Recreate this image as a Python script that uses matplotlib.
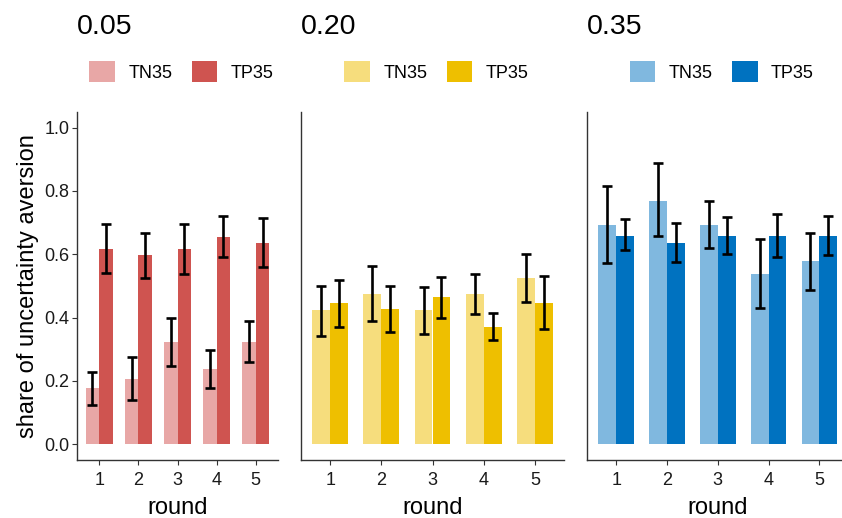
import matplotlib
matplotlib.use("Agg")
import matplotlib.pyplot as plt
from matplotlib.patches import Patch
import numpy as np

plt.rcParams['font.family'] = ['Liberation Sans', 'DejaVu Sans']

rounds = [1, 2, 3, 4, 5]
panel_titles = ["0.05", "0.20", "0.35"]
series_names = ["TN35", "TP35"]

# panel 0.05
tn_005 = [0.177, 0.206, 0.324, 0.237, 0.324]
tn_005_lo = [0.124, 0.138, 0.248, 0.177, 0.259]
tn_005_hi = [0.229, 0.276, 0.398, 0.296, 0.390]
tp_005 = [0.617, 0.598, 0.617, 0.655, 0.636]
tp_005_lo = [0.541, 0.525, 0.537, 0.592, 0.560]
tp_005_hi = [0.694, 0.667, 0.694, 0.720, 0.714]

# panel 0.20
tn_020 = [0.423, 0.473, 0.423, 0.473, 0.525]
tn_020_lo = [0.343, 0.389, 0.347, 0.412, 0.450]
tn_020_hi = [0.501, 0.562, 0.497, 0.536, 0.602]
tp_020 = [0.446, 0.427, 0.464, 0.369, 0.446]
tp_020_lo = [0.369, 0.355, 0.400, 0.328, 0.363]
tp_020_hi = [0.519, 0.500, 0.527, 0.414, 0.532]

# panel 0.35
tn_035 = [0.693, 0.769, 0.693, 0.538, 0.579]
tn_035_lo = [0.572, 0.656, 0.621, 0.430, 0.487]
tn_035_hi = [0.816, 0.889, 0.768, 0.649, 0.667]
tp_035 = [0.659, 0.636, 0.659, 0.659, 0.659]
tp_035_lo = [0.614, 0.575, 0.602, 0.592, 0.599]
tp_035_hi = [0.711, 0.698, 0.717, 0.728, 0.720]

yticks = [0.0, 0.2, 0.4, 0.6, 0.8, 1.0]
ytick_labels = ["0.0", "0.2", "0.4", "0.6", "0.8", "1.0"]

panels = [
    (tn_005, tn_005_lo, tn_005_hi, tp_005, tp_005_lo, tp_005_hi, "#E8A7A6", "#CF5450"),
    (tn_020, tn_020_lo, tn_020_hi, tp_020, tp_020_lo, tp_020_hi, "#F6DD7D", "#EEBF00"),
    (tn_035, tn_035_lo, tn_035_hi, tp_035, tp_035_lo, tp_035_hi, "#80B8DF", "#0072C0"),
]

W, H = 842, 518
fig = plt.figure(figsize=(W / 100, H / 100), dpi=100)

ax_left_px = [77, 301, 587.3]
ax_width_px = [201, 263, 261]
ax_bottom_px = 460
ax_top_px = 111.7

bw = 0.35
x = np.array(rounds, dtype=float)
axis_col = "#333333"

for i, (tn, tnl, tnh, tp, tpl, tph, c1, c2) in enumerate(panels):
    ax = fig.add_axes([ax_left_px[i] / W, (H - ax_bottom_px) / H,
                       ax_width_px[i] / W, (ax_bottom_px - ax_top_px) / H])
    tn = np.array(tn); tp = np.array(tp)
    ax.bar(x - bw / 2, tn, width=bw, color=c1, zorder=2)
    ax.bar(x + bw / 2, tp, width=bw, color=c2, zorder=2)
    ax.errorbar(x - bw / 2, tn, yerr=[tn - np.array(tnl), np.array(tnh) - tn],
                fmt='none', ecolor='black', elinewidth=1.9, capsize=3.8, capthick=1.9, zorder=3)
    ax.errorbar(x + bw / 2, tp, yerr=[tp - np.array(tpl), np.array(tph) - tp],
                fmt='none', ecolor='black', elinewidth=1.9, capsize=3.8, capthick=1.9, zorder=3)
    ax.set_xlim(0.43, 5.57)
    ax.set_ylim(-0.05, 1.05)
    ax.set_xticks(rounds)
    ax.set_xticklabels([str(r) for r in rounds], fontsize=13, color="#1a1a1a")
    for s in ["top", "right"]:
        ax.spines[s].set_visible(False)
    for s in ["left", "bottom"]:
        ax.spines[s].set_color(axis_col)
        ax.spines[s].set_linewidth(1.0)
    ax.tick_params(axis='x', length=3.5, width=0.8, color=axis_col, pad=5)
    ax.set_xlabel("round", fontsize=17, labelpad=6)
    if i == 0:
        ax.set_yticks(yticks)
        ax.set_yticklabels(ytick_labels, fontsize=13, color="#1a1a1a")
        ax.tick_params(axis='y', length=3.5, width=0.8, color=axis_col, pad=2)
        ax.set_ylabel("share of uncertainty aversion", fontsize=17, labelpad=4)
    else:
        ax.set_yticks([])
    fig.text(ax_left_px[i] / W, (H - 34) / H, panel_titles[i], fontsize=20.5,
             ha='left', va='baseline')
    handles = [Patch(facecolor=c1, edgecolor='none'), Patch(facecolor=c2, edgecolor='none')]
    cx = (ax_left_px[i] + ax_width_px[i] / 2 + 4) / W
    fig.legend(handles, series_names, loc='center', bbox_to_anchor=(cx, (H - 71.5) / H),
               ncol=2, frameon=False, fontsize=13, handlelength=1.4, handleheight=1.4,
               handletextpad=0.75, columnspacing=1.1, borderpad=0, borderaxespad=0)

fig.savefig("out.png", dpi=100)
